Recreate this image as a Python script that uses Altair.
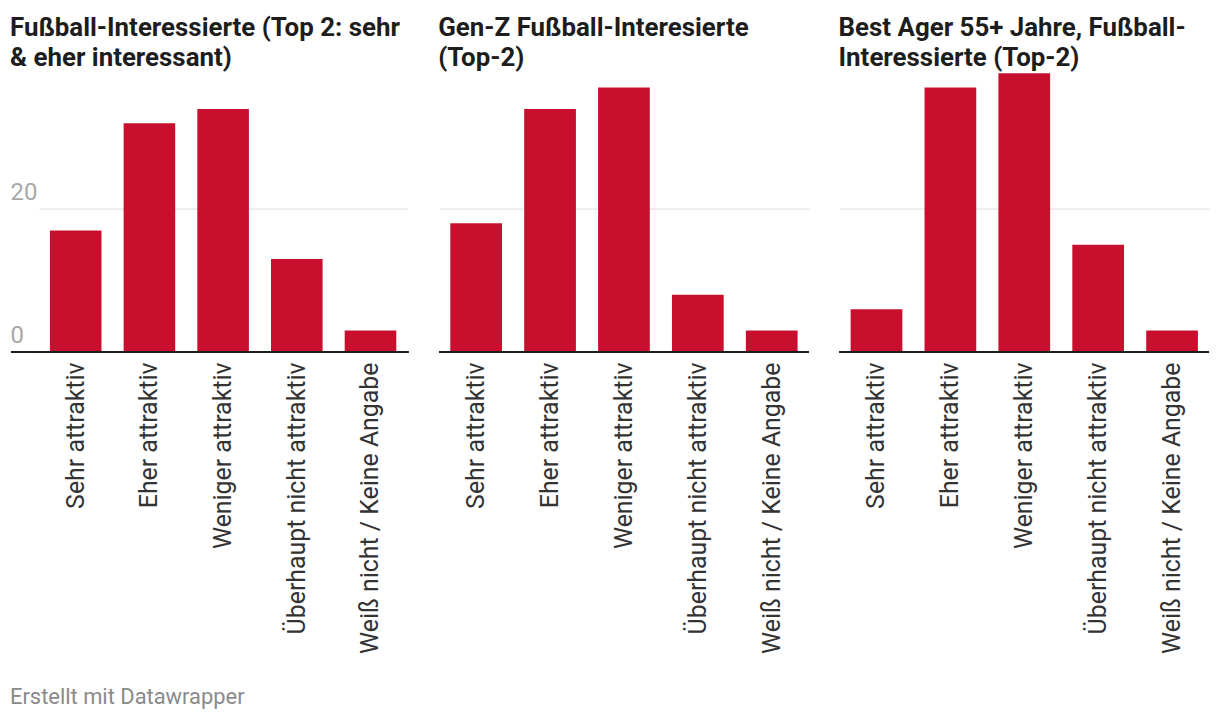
import altair as alt
import pandas as pd

categories = [
    "Sehr attraktiv",
    "Eher attraktiv",
    "Weniger attraktiv",
    "Überhaupt nicht attraktiv",
    "Weiß nicht / Keine Angabe",
]
fans_top2 = [17, 32, 34, 13, 3]
genz_top2 = [18, 34, 37, 8, 3]
best_ager_top2 = [6, 37, 39, 15, 3]

panel_titles = [
    ["Fußball-Interessierte (Top 2: sehr", "& eher interessant)"],
    ["Gen-Z Fußball-Interesierte", "(Top-2)"],
    ["Best Ager 55+ Jahre, Fußball-", "Interessierte (Top-2)"],
]
y_ticks = [0, 20]
footer = "Erstellt mit Datawrapper"

BAR = "#c8102e"
FONT = "Roboto"


def panel(values, title, first, width):
    df = pd.DataFrame({"Kategorie": categories, "Wert": values})
    if first:
        xscale = alt.Scale(range=[28, 398], paddingInner=0.3, paddingOuter=0.15)
    else:
        xscale = alt.Scale(paddingInner=0.3, paddingOuter=0.15)
    yaxis = alt.Axis(
        values=y_ticks,
        grid=True,
        gridColor="#e3e3e3",
        gridWidth=1.5,
        domain=False,
        ticks=False,
        title=None,
        labels=first,
        labelAlign="left",
        labelBaseline="alphabetic",
        labelPadding=1,
        labelOffset=-10,
        labelFontSize=24,
        labelColor="#a8a8a8",
        labelFont=FONT,
    )
    bars = alt.Chart(df).mark_bar(color=BAR).encode(
        x=alt.X(
            "Kategorie:N",
            sort=categories,
            scale=xscale,
            axis=alt.Axis(
                labelAngle=-90,
                domain=False,
                ticks=False,
                title=None,
                labelFontSize=25,
                labelColor="#333333",
                labelFont=FONT,
                labelPadding=10,
                labelLimit=400,
            ),
        ),
        y=alt.Y(
            "Wert:Q",
            scale=alt.Scale(domain=[0, 39], nice=False),
            axis=yaxis,
        ),
    )
    base = alt.Chart(df).mark_rule(color="#1d1d1d", strokeWidth=2).encode(
        y=alt.datum(0)
    )
    return alt.layer(bars, base).properties(
        width=width,
        height=280,
        title=alt.TitleParams(
            text=title,
            anchor="start",
            font=FONT,
            fontSize=26,
            fontWeight="bold",
            color="#1d1d1d",
            lineHeight=30,
            offset=2,
        ),
    )


chart = alt.hconcat(
    panel(fans_top2, panel_titles[0], True, 399),
    panel(genz_top2, panel_titles[1], False, 371),
    panel(best_ager_top2, panel_titles[2], False, 371),
    spacing=29,
).properties(
    padding={"left": 2, "top": 6, "right": 2, "bottom": 2},
    title=alt.TitleParams(
        text=footer,
        orient="bottom",
        anchor="start",
        font=FONT,
        fontSize=22,
        fontWeight="normal",
        color="#8a8a8a",
        offset=34,
    ),
).configure_view(stroke=None).configure_concat(spacing=29)

chart.save("out.html", embed_options={"renderer": "svg", "actions": False})
